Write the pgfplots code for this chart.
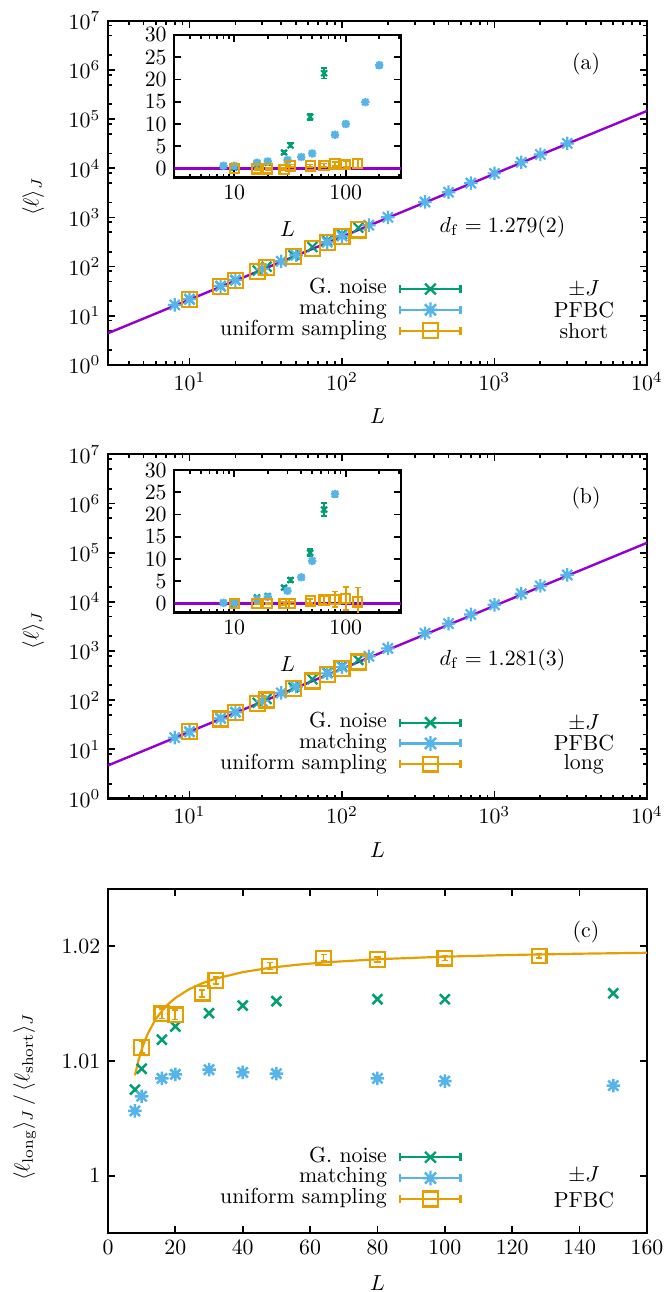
\documentclass[border=0pt]{standalone}
\usepackage{pgfplots}
\pgfplotsset{compat=1.18}
\definecolor{gnoise}{HTML}{009E73}
\definecolor{match}{HTML}{56B4E9}
\definecolor{unif}{HTML}{E69F00}
\definecolor{fitc}{HTML}{9400D3}
\pgfdeclareplotmark{gstar}{%
  \pgfpathmoveto{\pgfqpoint{-\pgfplotmarksize}{0pt}}\pgfpathlineto{\pgfqpoint{\pgfplotmarksize}{0pt}}%
  \pgfpathmoveto{\pgfqpoint{0pt}{-\pgfplotmarksize}}\pgfpathlineto{\pgfqpoint{0pt}{\pgfplotmarksize}}%
  \pgfpathmoveto{\pgfqpoint{-0.75\pgfplotmarksize}{-0.75\pgfplotmarksize}}\pgfpathlineto{\pgfqpoint{0.75\pgfplotmarksize}{0.75\pgfplotmarksize}}%
  \pgfpathmoveto{\pgfqpoint{-0.75\pgfplotmarksize}{0.75\pgfplotmarksize}}\pgfpathlineto{\pgfqpoint{0.75\pgfplotmarksize}{-0.75\pgfplotmarksize}}%
  \pgfusepathqstroke}
\pgfplotsset{
  errleg/.style={legend image code/.code={%
    \draw[##1,mark=none,solid] (0pt,0pt) -- (27.6pt,0pt);
    \draw[##1,mark=none,solid] (0pt,-1.8pt) -- (0pt,1.8pt);
    \draw[##1,mark=none,solid] (27.6pt,-1.8pt) -- (27.6pt,1.8pt);
    \draw[##1] plot coordinates {(13.8pt,0pt)};
  }},
  baseax/.style={scale only axis, tick align=inside,
    axis line style={line width=1.1pt},
    every tick/.style={black, line width=0.8pt},
    major tick length=3.3pt, minor tick length=1.8pt,
    scaled ticks=false},
  mainax/.style={baseax, width=247.25pt, height=157.9pt,
    xlabel style={at={(axis description cs:0.5,-0.150)}, anchor=center},
    legend plot pos=right,
    legend style={draw=none, fill=none, at={(axis description cs:0.657,0.252)}, anchor=north east,
      inner sep=0pt, row sep=0pt, column sep=5.7pt,
      nodes={inner sep=0pt, text height=7pt, text depth=2.55pt}},
    legend cell align=right},
  gser/.style={gnoise, only marks, mark=x, line width=1pt, mark options={solid,line width=1pt}},
  bser/.style={match, only marks, mark=gstar, line width=1pt, mark options={solid,line width=1pt}},
  user/.style={unif, only marks, mark=square, line width=1pt, mark options={solid,line width=1pt}},
  ebar/.style={error bars/y dir=both, error bars/y explicit, error bars/error bar style={line width=0.8pt}, error bars/error mark options={rotate=90, mark size=1.4pt, line width=0.8pt}},
  legG/.style={errleg, gnoise, mark=x, mark size=3.5pt, line width=1pt, mark options={solid,line width=1.1pt}},
  legB/.style={errleg, match, mark=gstar, mark size=3.4pt, line width=1pt, mark options={solid,line width=1.1pt}},
  legU/.style={errleg, unif, mark=square, mark size=3.4pt, line width=1pt, mark options={solid,line width=1.1pt}},
}
\begin{document}
\begin{tikzpicture}
\path[use as bounding box] (0,0) rectangle (307.3pt,-592.7pt);

% ---------------- panel (a) ----------------
\begin{axis}[mainax, at={(49.54pt,-167.4pt)}, anchor=south west,
  xmode=log, ymode=log, xmin=2.92, xmax=10000, ymin=1, ymax=1e7,
  xtick={10,100,1000,10000}, ytick={1,10,100,1000,10000,100000,1000000,10000000},
  minor xtick={4,5,...,9,20,30,...,90,200,300,...,900,2000,3000,...,9000},
  minor ytick={2,5,8,20,50,80,200,500,800,2000,5000,8000,20000,50000,80000,200000,500000,800000,2000000,5000000,8000000},
  xlabel={$L$}, ylabel={$\langle \ell\rangle_J$},
  ylabel style={at={(axis description cs:-0.139,0.489)}, anchor=center}]
\addplot[fitc, line width=1.1pt, forget plot] coordinates {(2.92,4.41) (10000,146300)};
\addplot[gser, mark size=3.2pt, forget plot] coordinates {(10,21.5) (16,39.9) (20,53.0) (28,83.0) (32,99.5) (48,169.9) (64,250.1) (80,335) (100,450) (128,615)};
\addplot[bser, mark size=3.1pt, forget plot] coordinates {(8,16.6) (10,21.9) (16,40.2) (20,53.3) (30,88.7) (40,128.0) (50,170.2) (80,311.9) (100,414.7) (150,694.9) (200,1005) (350,2060) (500,3250) (700,4990) (1000,7870) (1500,13200) (2000,19050) (3000,31980)};
\addplot[user, mark size=3.45pt, forget plot] coordinates {(10,21.3) (16,38.75) (20,51.6) (28,79.3) (32,94.8) (48,158.7) (64,229.6) (80,305.3) (100,405.5) (128,556.3)};
\addlegendimage{legG}
\addlegendentry{G. noise}
\addlegendimage{legB}
\addlegendentry{matching}
\addlegendimage{legU}
\addlegendentry{uniform sampling}
\node at (axis description cs:0.883,0.220) {$\pm J$};
\node at (axis description cs:0.883,0.160) {PFBC};
\node at (axis description cs:0.883,0.0996) {short};
\node at (axis description cs:0.887,0.873) {(a)};
\node at (axis description cs:0.732,0.402) {$d_{\mathrm{f}} = 1.279(2)$};
\end{axis}

\begin{axis}[baseax, width=104pt, height=65.4pt, at={(79.95pt,-81.4pt)}, anchor=south west,
  xmode=log, xmin=2.9, xmax=313, ymin=-2, ymax=30, ytick={0,5,...,30},
  xtick={10,100}, xticklabels={$10$,$100$},
  minor xtick={4,5,...,9,20,30,...,90,200,300},
  xlabel={$L$}, xlabel style={at={(axis description cs:0.5,-0.362)}, anchor=center},
  axis background/.style={fill=white}]
\addplot[fitc, line width=1.6pt] coordinates {(2.9,0) (313,0)};
\addplot[gser, mark size=1.9pt, ebar] coordinates {(10,0.2) +- (0,0.2) (16,1.0) +- (0,0.3) (20,1.3) +- (0,0.3) (28,3.6) +- (0,0.4) (32,5.2) +- (0,0.5) (48,11.6) +- (0,0.7) (64,21.4) +- (0,1.2)};
\addplot[bser, mark size=1.9pt, ebar] coordinates {(8,0.6) +- (0,0.2) (10,0.6) +- (0,0.2) (16,1.3) +- (0,0.3) (20,1.6) +- (0,0.3) (30,1.9) +- (0,0.3) (40,2.6) +- (0,0.3) (50,3.4) +- (0,0.3) (80,7.6) +- (0,0.4) (100,10.0) +- (0,0.4) (150,14.9) +- (0,0.5) (200,23.2) +- (0,0.6)};
\addplot[user, mark size=2.1pt, ebar] coordinates {(10,0) +- (0,0.2) (16,-0.1) +- (0,0.2) (20,-0.1) +- (0,0.2) (28,-0.15) +- (0,0.2) (32,0.6) +- (0,0.3) (48,0.6) +- (0,0.3) (64,0.74) +- (0,0.4) (80,1.04) +- (0,0.5) (100,0.97) +- (0,0.6) (128,1.1) +- (0,1.0)};
\end{axis}

% ---------------- panel (b) ----------------
\begin{axis}[mainax, at={(49.54pt,-366.3pt)}, anchor=south west,
  xmode=log, ymode=log, xmin=2.92, xmax=10000, ymin=1, ymax=1e7,
  xtick={10,100,1000,10000}, ytick={1,10,100,1000,10000,100000,1000000,10000000},
  minor xtick={4,5,...,9,20,30,...,90,200,300,...,900,2000,3000,...,9000},
  minor ytick={2,5,8,20,50,80,200,500,800,2000,5000,8000,20000,50000,80000,200000,500000,800000,2000000,5000000,8000000},
  xlabel={$L$}, ylabel={$\langle \ell\rangle_J$},
  ylabel style={at={(axis description cs:-0.139,0.489)}, anchor=center}]
\addplot[fitc, line width=1.1pt, forget plot] coordinates {(2.92,4.70) (10000,158300)};
\addplot[gser, mark size=3.2pt, forget plot] coordinates {(10,22.7) (16,42.9) (20,56.9) (28,88.6) (32,106.1) (48,180.9) (64,266.1) (80,365) (100,490) (128,660)};
\addplot[bser, mark size=3.1pt, forget plot] coordinates {(8,17.3) (10,22.9) (16,42.5) (20,56.7) (30,95.7) (40,140.1) (50,188.2) (80,350.7) (100,470) (150,780) (200,1130) (350,2290) (500,3600) (700,5520) (1000,8700) (1500,14600) (2000,21000) (3000,35200)};
\addplot[user, mark size=3.45pt, forget plot] coordinates {(10,22.7) (16,41.5) (20,55.2) (28,85.0) (32,100.9) (48,170.1) (64,245.8) (80,327.1) (100,435.2) (128,595.9)};
\addlegendimage{legG}
\addlegendentry{G. noise}
\addlegendimage{legB}
\addlegendentry{matching}
\addlegendimage{legU}
\addlegendentry{uniform sampling}
\node at (axis description cs:0.883,0.220) {$\pm J$};
\node at (axis description cs:0.883,0.160) {PFBC};
\node at (axis description cs:0.883,0.0996) {long};
\node at (axis description cs:0.887,0.873) {(b)};
\node at (axis description cs:0.732,0.402) {$d_{\mathrm{f}} = 1.281(3)$};
\end{axis}

\begin{axis}[baseax, width=104pt, height=65.4pt, at={(79.95pt,-281pt)}, anchor=south west,
  xmode=log, xmin=2.9, xmax=313, ymin=-2, ymax=30, ytick={0,5,...,30},
  xtick={10,100}, xticklabels={$10$,$100$},
  minor xtick={4,5,...,9,20,30,...,90,200,300},
  xlabel={$L$}, xlabel style={at={(axis description cs:0.5,-0.362)}, anchor=center},
  axis background/.style={fill=white}]
\addplot[fitc, line width=1.6pt] coordinates {(2.9,0) (313,0)};
\addplot[gser, mark size=1.9pt, ebar] coordinates {(10,0) +- (0,0.2) (16,1.4) +- (0,0.3) (20,1.7) +- (0,0.3) (28,3.6) +- (0,0.4) (32,5.3) +- (0,0.5) (48,11.4) +- (0,0.8) (64,21.1) +- (0,1.5)};
\addplot[bser, mark size=1.9pt, ebar] coordinates {(8,0.2) +- (0,0.2) (10,0.2) +- (0,0.2) (16,1.0) +- (0,0.3) (20,1.5) +- (0,0.3) (30,2.9) +- (0,0.3) (40,5.9) +- (0,0.4) (50,9.6) +- (0,0.5) (80,24.6) +- (0,0.6)};
\addplot[user, mark size=2.1pt, ebar] coordinates {(10,0) +- (0,0.2) (16,0) +- (0,0.2) (20,0) +- (0,0.2) (28,0) +- (0,0.3) (32,0.1) +- (0,0.3) (48,0.6) +- (0,0.5) (64,0.8) +- (0,0.9) (80,1.0) +- (0,1.7) (100,1.2) +- (0,2.6) (128,0.4) +- (0,3.2)};
\end{axis}

% ---------------- panel (c) ----------------
\begin{axis}[mainax, at={(49.54pt,-565.7pt)}, anchor=south west,
  xmin=0, xmax=160, ymin=0.995, ymax=1.025,
  xtick={0,20,...,160}, ytick={1,1.01,1.02}, yticklabels={$1$,$1.01$,$1.02$},
  xlabel={$L$}, ylabel={$\langle \ell_{\mathrm{long}}\rangle_J\,/\,\langle \ell_{\mathrm{short}}\rangle_J$},
  xlabel style={at={(axis description cs:0.5,-0.145)}, anchor=center},
  ylabel style={at={(axis description cs:-0.155,0.396)}, anchor=center}]
\addplot[unif, line width=1pt, forget plot] coordinates {(8,1.00875) (9,1.01) (10,1.011) (11,1.011818) (12,1.0125) (14,1.013571) (16,1.014375) (18,1.015) (20,1.0155) (24,1.01625) (28,1.016786) (32,1.017188) (40,1.01775) (48,1.018125) (56,1.018393) (64,1.018594) (80,1.018875) (100,1.0191) (120,1.01925) (140,1.019357) (160,1.019438)};
\addplot[gser, mark size=3.2pt, line width=1.15pt, mark options={solid,line width=1.15pt}, forget plot] coordinates {(8,1.00751) (10,1.00933) (16,1.01186) (20,1.01301) (30,1.01417) (40,1.01484) (50,1.01522) (80,1.01539) (100,1.01539) (150,1.01591)};
\addplot[bser, mark size=3.1pt, line width=1.15pt, mark options={solid,line width=1.15pt}, forget plot] coordinates {(8,1.00565) (10,1.00693) (16,1.00849) (20,1.00884) (30,1.00925) (40,1.00901) (50,1.00890) (80,1.00849) (100,1.00826) (150,1.00786)};
\addplot[user, mark size=3.35pt, ebar, forget plot] coordinates {(10,1.0112) +- (0,0.0005) (16,1.01412) +- (0,0.0004) (20,1.01403) +- (0,0.0004) (28,1.01591) +- (0,0.0003) (32,1.01701) +- (0,0.0003) (48,1.01829) +- (0,0.0003) (64,1.01899) +- (0,0.0003) (80,1.01884) +- (0,0.0002) (100,1.01896) +- (0,0.0002) (128,1.01916) +- (0,0.0002)};
\addlegendimage{legG}
\addlegendentry{G. noise}
\addlegendimage{legB}
\addlegendentry{matching}
\addlegendimage{legU}
\addlegendentry{uniform sampling}
\node at (axis description cs:0.883,0.169) {$\pm J$};
\node at (axis description cs:0.883,0.096) {PFBC};
\node at (axis description cs:0.887,0.876) {(c)};
\end{axis}
\end{tikzpicture}
\end{document}
